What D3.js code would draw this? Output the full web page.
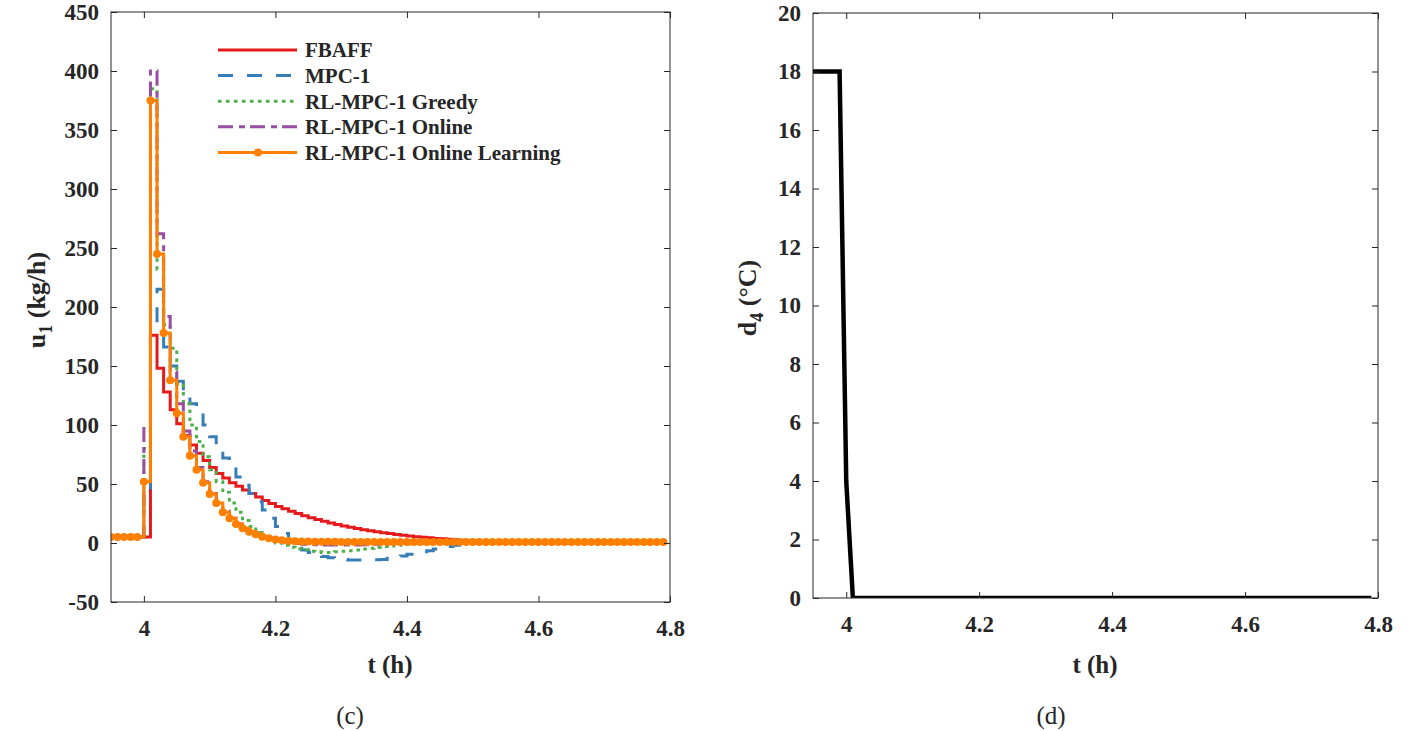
<!DOCTYPE html>
<html>
<head>
<meta charset="utf-8">
<script src="https://cdn.jsdelivr.net/npm/d3@7"></script>
<style>
  body { margin: 0; background: #fff; }
  svg text { font-family: "Liberation Serif", "Times New Roman", serif; fill: #262626; }
</style>
</head>
<body>
<svg id="fig" width="1411" height="731"></svg>
<script>
// Sampling grid: 0.01 h steps from 3.95 h to 4.79 h (85 samples)
const tStart = 3.95, tStep = 0.01, nSamples = 85;

const tTicks = [4, 4.2, 4.4, 4.6, 4.8];
const uTicks = [-50, 0, 50, 100, 150, 200, 250, 300, 350, 400, 450];
const dTicks = [0, 2, 4, 6, 8, 10, 12, 14, 16, 18, 20];

const seriesNames = ["FBAFF", "MPC-1", "RL-MPC-1 Greedy", "RL-MPC-1 Online", "RL-MPC-1 Online Learning"];

// u1 (kg/h), one value per sample
const fbaff = [
  5, 5, 5, 5, 5,
  5, 176, 148, 128, 113, 101, 91, 83, 76, 70,
  64, 59, 55, 51, 48, 45, 42, 39, 36, 33.5,
  31, 29, 27, 25, 23, 21.5, 20, 18.5, 17, 15.7,
  14.5, 13.4, 12.3, 11.3, 10.4, 9.5, 8.7, 8, 7.3, 6.6,
  6, 5.4, 4.9, 4.4, 3.9, 3.5, 3.1, 2.7, 2.4, 2.1,
  1.8, 1.6, 1.4, 1.2, 1.0, 0.9, 0.8, 0.7, 0.6, 0.5,
  0.4, 0.4, 0.3, 0.3, 0.3, 0.2, 0.2, 0.2, 0.2, 0.1,
  0.1, 0.1, 0.1, 0.1, 0.1, 0.1, 0.1, 0.1, 0.1, 0.1
];
const mpc1 = [
  5, 5, 5, 5, 5,
  40, 185, 215, 166, 150, 137, 127, 118, 110, 100,
  90, 81, 72, 64, 56, 49, 42, 35, 28, 21,
  14, 8, 2, -3, -6, -8, -10, -11.5, -12.5, -13.5,
  -14, -14.5, -14.5, -14.5, -14.5, -14.3, -14, -13, -12, -11,
  -9.5, -8.5, -7.5, -6.5, -5, -4, -3, -2, -1.2, -0.5,
  0, 0.3, 0.5, 0.8, 1, 1.3, 1.5, 1.6, 1.7, 1.7,
  1.7, 1.6, 1.5, 1.4, 1.3, 1.1, 1.0, 0.9, 0.8, 0.8,
  0.7, 0.7, 0.6, 0.6, 0.5, 0.5, 0.5, 0.5, 0.5, 0.5
];
const rlGreedy = [
  5, 5, 5, 5, 5,
  80, 385, 232, 185, 165, 135, 118, 100, 86, 73,
  62, 52, 43, 34, 26, 19, 14, 9, 5, 2.5,
  0, -2, -3.5, -5, -6, -7, -7.5, -8, -8, -7.5,
  -7, -6.5, -6, -5, -4.5, -3.5, -3, -2.5, -2, -1.5,
  -1, -0.7, -0.5, -0.3, -0.2, 0, 0, 0, 0, 0,
  0, 0, 0, 0, 0, 0, 0, 0, 0, 0,
  0, 0, 0, 0, 0, 0, 0, 0, 0, 0,
  0, 0, 0, 0, 0, 0, 0, 0, 0, 0
];
const rlOnline = [
  5, 5, 5, 5, 5,
  97, 400, 262, 192, 145, 118, 95, 78, 64, 52,
  42, 34, 27, 21, 16, 12, 9, 6.5, 4.5, 3,
  1.8, 0.8, 0, -0.5, -1, -1.3, -1.5, -1.7, -1.8, -1.8,
  -1.8, -1.7, -1.6, -1.5, -1.3, -1.1, -0.9, -0.7, -0.5, -0.3,
  -0.2, -0.1, 0, 0, 0, 0, 0, 0, 0, 0,
  0, 0, 0, 0, 0, 0, 0, 0, 0, 0,
  0, 0, 0, 0, 0, 0, 0, 0, 0, 0,
  0, 0, 0, 0, 0, 0, 0, 0, 0, 0
];
const rlOnlineLearning = [
  5, 5, 5, 5, 5,
  52, 375, 245, 178, 138, 110, 90, 74, 62, 51,
  41.5, 34, 26, 21, 16, 12.5, 9.6, 7.4, 5.3, 4,
  3, 2.3, 1.8, 1.5, 1.3, 1.2, 1.1, 1, 1, 1,
  0.9, 0.9, 0.9, 0.9, 0.9, 0.9, 0.9, 0.9, 0.9, 0.9,
  0.8, 0.8, 0.8, 0.8, 0.8, 0.8, 0.8, 0.8, 0.8, 0.8,
  0.8, 0.8, 0.8, 0.8, 0.8, 0.8, 0.8, 0.8, 0.8, 0.8,
  0.8, 0.8, 0.8, 0.8, 0.8, 0.8, 0.8, 0.8, 0.8, 0.8,
  0.8, 0.8, 0.8, 0.8, 0.8, 0.8, 0.8, 0.8, 0.8, 0.8
];

// d4 (°C), one value per sample
const d4 = [
  18, 18, 18, 18, 18,
  4, 0, 0, 0, 0, 0, 0, 0, 0, 0,
  0, 0, 0, 0, 0, 0, 0, 0, 0, 0,
  0, 0, 0, 0, 0, 0, 0, 0, 0, 0,
  0, 0, 0, 0, 0, 0, 0, 0, 0, 0,
  0, 0, 0, 0, 0, 0, 0, 0, 0, 0,
  0, 0, 0, 0, 0, 0, 0, 0, 0, 0,
  0, 0, 0, 0, 0, 0, 0, 0, 0, 0,
  0, 0, 0, 0, 0, 0, 0, 0, 0, 0
];

const time = d3.range(nSamples).map(i => +(tStart + i * tStep).toFixed(2));

const seriesStyles = [
  { data: fbaff,            color: "#e41a1c", dash: null },
  { data: mpc1,             color: "#377eb8", dash: "15,14" },
  { data: rlGreedy,         color: "#4daf4a", dash: "3.5,4.5" },
  { data: rlOnline,         color: "#984ea3", dash: "15,6,6,5" },
  { data: rlOnlineLearning, color: "#ff7f00", dash: null, marker: true }
];

const svg = d3.select("#fig");
const axisColor = "#262626";
const tickFont = 23;
const plainNumber = d => String(d);

function drawFrame(g, x, y, xTicks, yTicks) {
  const [x0, x1] = x.range();
  const [y1, y0] = y.range();
  g.append("rect")
    .attr("x", x0).attr("y", y0).attr("width", x1 - x0).attr("height", y1 - y0)
    .attr("fill", "none").attr("stroke", axisColor).attr("stroke-width", 1);

  // bottom/left axes with inward ticks, plus mirrored top/right ticks
  const bottom = g.append("g").attr("transform", `translate(0,${y1})`)
    .call(d3.axisBottom(x).tickValues(xTicks).tickSizeInner(-6).tickSizeOuter(0).tickPadding(18).tickFormat(plainNumber));
  const top = g.append("g").attr("transform", `translate(0,${y0})`)
    .call(d3.axisTop(x).tickValues(xTicks).tickSizeInner(-6).tickSizeOuter(0).tickFormat(""));
  const left = g.append("g").attr("transform", `translate(${x0},0)`)
    .call(d3.axisLeft(y).tickValues(yTicks).tickSizeInner(-6).tickSizeOuter(0).tickPadding(12).tickFormat(plainNumber));
  const right = g.append("g").attr("transform", `translate(${x1},0)`)
    .call(d3.axisRight(y).tickValues(yTicks).tickSizeInner(-6).tickSizeOuter(0).tickFormat(""));

  [bottom, top, left, right].forEach(a => {
    a.select(".domain").remove();
    a.selectAll(".tick line").attr("stroke", axisColor).attr("stroke-width", 1);
    a.selectAll(".tick text")
      .attr("font-family", "Liberation Serif, serif")
      .attr("font-weight", "bold")
      .attr("font-size", tickFont)
      .attr("fill", axisColor);
  });
  bottom.selectAll(".tick text").attr("dy", "0.68em");
}

// ---------- Panel (c): u1 ----------
const xL = d3.scaleLinear().domain([3.95, 4.8]).range([111, 670]);
const yL = d3.scaleLinear().domain([-50, 450]).range([602, 12]);
const gL = svg.append("g");

svg.append("clipPath").attr("id", "clipL").append("rect")
  .attr("x", 111).attr("y", 12).attr("width", 559).attr("height", 590);

const plotL = gL.append("g").attr("clip-path", "url(#clipL)");
const stairs = d3.line().curve(d3.curveStepAfter)
  .x((d, i) => xL(time[i])).y(d => yL(d));

seriesStyles.forEach(s => {
  plotL.append("path")
    .datum(s.data)
    .attr("d", stairs)
    .attr("fill", "none")
    .attr("stroke", s.color)
    .attr("stroke-width", 3)
    .attr("stroke-dasharray", s.dash)
    .attr("stroke-linejoin", "miter");
  if (s.marker) {
    plotL.selectAll(null).data(s.data).enter().append("circle")
      .attr("cx", (d, i) => xL(time[i]))
      .attr("cy", d => yL(d))
      .attr("r", 4)
      .attr("fill", s.color);
  }
});

drawFrame(gL, xL, yL, tTicks, uTicks);

// legend
const legend = gL.append("g");
seriesStyles.forEach((s, i) => {
  const yy = 50 + i * 25.6;
  legend.append("line")
    .attr("x1", 218).attr("x2", 297).attr("y1", yy).attr("y2", yy)
    .attr("stroke", s.color).attr("stroke-width", 3)
    .attr("stroke-dasharray", s.dash);
  if (s.marker) {
    legend.append("circle").attr("cx", 258).attr("cy", yy).attr("r", 4).attr("fill", s.color);
  }
  legend.append("text")
    .attr("x", 305).attr("y", yy).attr("dy", "0.35em")
    .attr("font-size", 21).attr("font-weight", "bold")
    .text(seriesNames[i]);
});

// axis titles
gL.append("text").attr("x", 390).attr("y", 673).attr("text-anchor", "middle")
  .attr("font-size", 25).attr("font-weight", "bold").text("t (h)");
const uLabel = gL.append("text")
  .attr("transform", "translate(45,300) rotate(-90)")
  .attr("text-anchor", "middle").attr("font-size", 26).attr("font-weight", "bold");
uLabel.append("tspan").text("u");
uLabel.append("tspan").attr("font-size", 18).attr("dy", 7).text("1");
uLabel.append("tspan").attr("dy", -7).text(" (kg/h)");

svg.append("text").attr("x", 350).attr("y", 724).attr("text-anchor", "middle")
  .attr("font-size", 25).text("(c)");

// ---------- Panel (d): d4 ----------
const xR = d3.scaleLinear().domain([3.95, 4.8]).range([813, 1378]);
const yR = d3.scaleLinear().domain([0, 20]).range([598, 13]);
const gR = svg.append("g");

svg.append("clipPath").attr("id", "clipR").append("rect")
  .attr("x", 813).attr("y", 13).attr("width", 565).attr("height", 585);

gR.append("g").attr("clip-path", "url(#clipR)")
  .append("path")
  .datum(d4)
  .attr("d", d3.line().x((d, i) => xR(time[i])).y(d => yR(d)))
  .attr("fill", "none").attr("stroke", "#000").attr("stroke-width", 4.5)
  .attr("stroke-linejoin", "miter");

drawFrame(gR, xR, yR, tTicks, dTicks);

gR.append("text").attr("x", 1095).attr("y", 673).attr("text-anchor", "middle")
  .attr("font-size", 25).attr("font-weight", "bold").text("t (h)");
const dLabel = gR.append("text")
  .attr("transform", "translate(756,298) rotate(-90)")
  .attr("text-anchor", "middle").attr("font-size", 26).attr("font-weight", "bold");
dLabel.append("tspan").text("d");
dLabel.append("tspan").attr("font-size", 18).attr("dy", 7).text("4");
dLabel.append("tspan").attr("dy", -7).text(" (°C)");

svg.append("text").attr("x", 1051).attr("y", 724).attr("text-anchor", "middle")
  .attr("font-size", 25).text("(d)");
</script>
</body>
</html>
